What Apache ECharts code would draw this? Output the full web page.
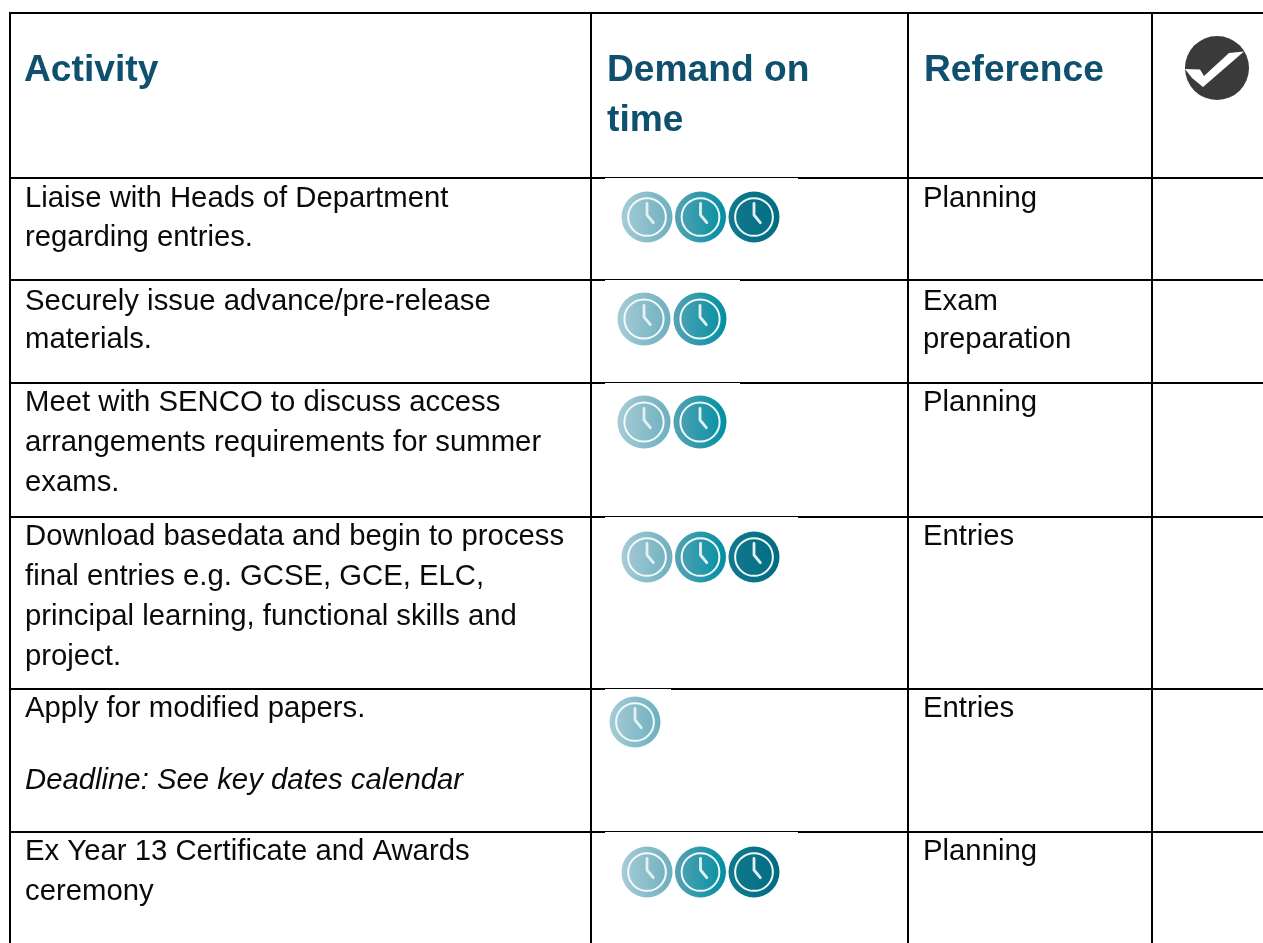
<!DOCTYPE html>
<html><head><meta charset="utf-8">
<style>html,body{margin:0;padding:0;background:#fff}#c{width:1263px;height:943px}</style>
<script src="https://cdn.jsdelivr.net/npm/echarts@6/dist/echarts.min.js"></script>
</head><body><div id="c"></div>
<script>
// ---- data ----
const headers = [['Activity'], ['Demand on', 'time'], ['Reference'], []];
const columnNames = ['Activity', 'Demand on time', 'Reference', 'Done'];
const rowNames = ['Header', 'Row 1', 'Row 2', 'Row 3', 'Row 4', 'Row 5', 'Row 6'];
const activities = [
  ['Liaise with Heads of Department', 'regarding entries.'],
  ['Securely issue advance/pre-release', 'materials.'],
  ['Meet with SENCO to discuss access', 'arrangements requirements for summer', 'exams.'],
  ['Download basedata and begin to process', 'final entries e.g. GCSE, GCE, ELC,', 'principal learning, functional skills and', 'project.'],
  ['Apply for modified papers.'],
  ['Ex Year 13 Certificate and Awards', 'ceremony']
];
const notes = [null, null, null, null, 'Deadline: See key dates calendar', null];
const demand = [3, 2, 2, 3, 1, 3];
const references = [['Planning'], ['Exam', 'preparation'], ['Planning'], ['Entries'], ['Entries'], ['Planning']];

// ---- layout and style ----
const colSizes = [581, 317, 244, 148];
const rowSizes = [165, 102, 103, 134, 172, 143, 120];
const FONT = '"Liberation Sans", Arial, sans-serif';
const BODY = 29.3, HEAD = 37.2, HEAD_LH = 50;
const NAVY = '#10506f';
const clockLook = [
  ['#a6ccd6', '#6dafbe'],
  ['#55a3b4', '#0090a2'],
  ['#12798e', '#006c82']
];
// per-row icon placement, relative to the cell's top-left corner
const clockX = [56, 53, 53, 56, 44, 56];
const clockY = [39, 39, 39, 40, 33, 40];
const clockR = [25.5, 26.5, 26.5, 25.5, 25.5, 25.5];
const clockStep = [53.5, 56, 56, 53.5, 53.5, 53.5];
const stripW = [0, 66, 135, 193];
const textY = [30, 31, 29, 29, 29, 29];
const lineGap = [39.5, 38, 40.3, 40.3, 40, 40];

function line(x, y, str, size, prefix, color) {
  return { type: 'text', style: { x, y: y - size * 0.82, text: str, font: prefix + size + 'px ' + FONT, fill: color, textAlign: 'left' } };
}
const cellRect = (api, c, r) => api.layout([c, r]).rect;

function renderText(params, api) {
  const i = params.dataIndex;
  const kids = [];
  if (i < 3) {
    const rect = cellRect(api, i, 0);
    headers[i].forEach((s, k) => kids.push(line(rect.x + (i === 0 ? 14 : 16), rect.y + 70 + k * HEAD_LH, s, HEAD, 'bold ', NAVY)));
  } else {
    const row = i - 3;
    const r = Math.floor(row / 2), isRef = row % 2 === 1;
    const rect = cellRect(api, isRef ? 2 : 0, r + 1);
    const lines = isRef ? references[r] : activities[r];
    const x = rect.x + 15;
    lines.forEach((s, k) => kids.push(line(x, rect.y + textY[r] + k * lineGap[r], s, BODY, '', '#0a0a0a')));
    if (!isRef && notes[r]) kids.push(line(x, rect.y + textY[r] + 72, notes[r], BODY, 'italic ', '#0a0a0a'));
  }
  return { type: 'group', children: kids };
}

function renderClocks(params, api) {
  const r = params.dataIndex;
  const rect = cellRect(api, 1, r + 1);
  const kids = [{ type: 'rect', shape: { x: rect.x + 14, y: rect.y, width: stripW[demand[r]], height: 3 }, style: { fill: '#fff' } }];
  for (let k = 0; k < demand[r]; k++) {
    const cx = rect.x + clockX[r] + k * clockStep[r], cy = rect.y + clockY[r], R = clockR[r];
    kids.push({ type: 'circle', shape: { cx, cy, r: R }, style: { fill: { type: 'linear', x: 0, y: 0, x2: 1, y2: 0, colorStops: [{ offset: 0, color: clockLook[k][0] }, { offset: 1, color: clockLook[k][1] }] } } });
    kids.push({ type: 'circle', shape: { cx, cy, r: R * 0.74 }, style: { fill: 'none', stroke: '#f4fafb', lineWidth: 2 } });
    kids.push({ type: 'polyline', shape: { points: [[cx, cy - 13.5], [cx, cy - 2], [cx + 6.3, cy + 5.7]] }, style: { fill: 'none', stroke: '#e4f0f3', lineWidth: 2.8, lineCap: 'round', lineJoin: 'round' } });
  }
  return { type: 'group', children: kids };
}

function renderCheck(params, api) {
  const rect = cellRect(api, 3, 0);
  const cx = rect.x + 65, cy = rect.y + 55;
  const pts = [[-32, 1], [-17, 1.5], [-13, 8], [12, -15], [27, -16.5], [-14, 19], [-25, 10]];
  return { type: 'group', children: [
    { type: 'circle', shape: { cx, cy, r: 32 }, style: { fill: '#3a3a3a' } },
    { type: 'polygon', shape: { points: pts.map(p => [cx + p[0], cy + p[1]]) }, style: { fill: '#fff' } }
  ] };
}

const textCells = [];
for (let i = 0; i < 3 + activities.length * 2; i++) textCells.push([0, 0, i]);

const chart = echarts.init(document.getElementById('c'), null, { renderer: 'canvas' });
chart.setOption({
  animation: false,
  backgroundColor: '#fff',
  matrix: {
    left: 10, top: 13, width: colSizes.reduce((a, b) => a + b), height: rowSizes.reduce((a, b) => a + b),
    x: { show: false, data: columnNames.map((v, i) => ({ value: v, size: colSizes[i] })) },
    y: { show: false, data: rowNames.map((v, i) => ({ value: v, size: rowSizes[i] })) },
    body: { itemStyle: { borderColor: '#000', borderWidth: 2, color: '#fff' }, label: { show: false } },
    backgroundStyle: { borderColor: '#000', borderWidth: 2, color: '#fff' },
    dividerLineStyle: { color: '#000', width: 2 }
  },
  series: [
    { type: 'custom', coordinateSystem: 'matrix', silent: true, clip: false, data: textCells, renderItem: renderText, z: 5 },
    { type: 'custom', coordinateSystem: 'matrix', silent: true, clip: false, data: demand.map((d, i) => [1, i + 1, d]), renderItem: renderClocks, z: 5 },
    { type: 'custom', coordinateSystem: 'matrix', silent: true, clip: false, data: [[3, 0, 1]], renderItem: renderCheck, z: 5 }
  ]
});
</script></body></html>
